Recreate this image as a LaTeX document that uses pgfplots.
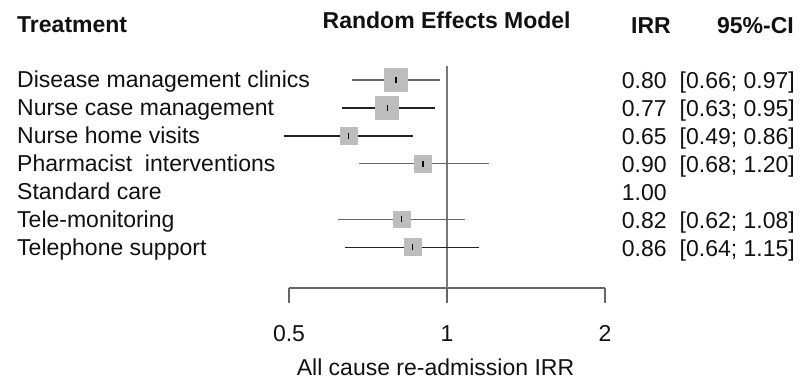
\documentclass[border=0pt]{standalone}
\usepackage{fontspec}
\setmainfont{Liberation Sans}
\usepackage{pgfplots}
\pgfplotsset{compat=1.18}
\definecolor{boxgray}{HTML}{BDBDBD}
\definecolor{axisgray}{HTML}{666666}
\definecolor{vgray}{HTML}{777777}
\definecolor{wgray}{HTML}{666666}
\definecolor{wdark}{HTML}{222222}
\definecolor{txt}{HTML}{111111}
\tikzset{ff/.style={font=\fontsize{23bp}{28bp}\selectfont, text=txt, inner sep=0pt}}
\begin{document}
\begin{tikzpicture}
\begin{axis}[
  scale only axis, width=316bp, height=222bp,
  xmode=log, log basis x=2, xmin=0.5, xmax=2,
  ymin=0.5, ymax=8.455, y dir=reverse,
  axis x line*=bottom, hide y axis,
  x axis line style={-, draw=axisgray, line width=1.4bp},
  xtick={0.5,1,2}, xticklabels={0.5,1,2}, minor xtick={},
  tick align=outside, major tick length=15bp,
  tick style={draw=axisgray, line width=1.4bp},
  xticklabel style={font=\fontsize{23bp}{28bp}\selectfont, text=txt, anchor=north, inner sep=0pt, yshift=-22bp},
  /pgf/number format/assume math mode=true,
  clip=false,
  xlabel={All cause re-admission IRR},
  xlabel style={font=\fontsize{23bp}{28bp}\selectfont, text=txt, inner sep=0pt, at={(axis description cs:0.5,0)}, anchor=base, yshift=-87bp, xshift=-11.5bp},
]
% reference line at IRR = 1
\addplot[draw=vgray, line width=1.5bp] coordinates {(1,0.5) (1,8.455)};
% boxes
\addplot[only marks, mark=square*, mark size=11.5bp, mark options={fill=boxgray, draw=boxgray, line width=0pt}] coordinates {(0.80,1) (0.77,2)};
\addplot[only marks, mark=square*, mark size=8.4bp, mark options={fill=boxgray, draw=boxgray, line width=0pt}] coordinates {(0.65,3) (0.90,4) (0.82,6) (0.86,7)};
% whiskers (lighter)
\addplot[draw=wgray, line width=1.6bp, unbounded coords=jump] table {
x y
0.66 1
0.97 1
nan nan
0.68 4
1.20 4
nan nan
0.62 6
1.08 6
};
% whiskers (darker)
\addplot[draw=wdark, line width=1.6bp, unbounded coords=jump] table {
x y
0.63 2
0.95 2
nan nan
0.49 3
0.86 3
nan nan
0.64 7
1.15 7
};
% centre ticks
\addplot[only marks, mark=|, mark size=3bp, mark options={line width=1.3bp, draw=black}] coordinates {(0.80,1) (0.77,2) (0.65,3) (0.90,4) (0.82,6) (0.86,7)};
\end{axis}
% headers
\node[ff, anchor=base west] at (-272bp,255bp) {\bfseries Treatment};
\node[ff, anchor=base] at (157.7bp,259.7bp) {\bfseries Random Effects Model};
\node[ff, anchor=base west] at (342bp,254.5bp) {\bfseries IRR};
\node[ff, anchor=base east] at (505bp,254.7bp) {\bfseries 95\%-CI};
% row labels
\node[ff, anchor=base west] at (-272bp,200bp) {Disease management clinics};
\node[ff, anchor=base west] at (-272bp,172.1bp) {Nurse case management};
\node[ff, anchor=base west] at (-272bp,144.2bp) {Nurse home visits};
\node[ff, anchor=base west] at (-272bp,116.3bp) {Pharmacist\ \ interventions};
\node[ff, anchor=base west] at (-272bp,88.4bp) {Standard care};
\node[ff, anchor=base west] at (-272bp,60.5bp) {Tele-monitoring};
\node[ff, anchor=base west] at (-272bp,32.6bp) {Telephone support};
% IRR values
\node[ff, anchor=base west] at (332.7bp,199bp) {0.80};
\node[ff, anchor=base west] at (332.7bp,171.1bp) {0.77};
\node[ff, anchor=base west] at (332.7bp,143.2bp) {0.65};
\node[ff, anchor=base west] at (332.7bp,115.3bp) {0.90};
\node[ff, anchor=base west] at (332.7bp,87.4bp) {1.00};
\node[ff, anchor=base west] at (332.7bp,59.5bp) {0.82};
\node[ff, anchor=base west] at (332.7bp,31.6bp) {0.86};
% CIs
\node[ff, anchor=base east] at (506bp,199bp) {[0.66; 0.97]};
\node[ff, anchor=base east] at (506bp,171.1bp) {[0.63; 0.95]};
\node[ff, anchor=base east] at (506bp,143.2bp) {[0.49; 0.86]};
\node[ff, anchor=base east] at (506bp,115.3bp) {[0.68; 1.20]};
\node[ff, anchor=base east] at (506bp,59.5bp) {[0.62; 1.08]};
\node[ff, anchor=base east] at (506bp,31.6bp) {[0.64; 1.15]};
\pgfresetboundingbox
\path (-289bp,-92bp) rectangle (511bp,288bp);
\end{tikzpicture}
\end{document}
